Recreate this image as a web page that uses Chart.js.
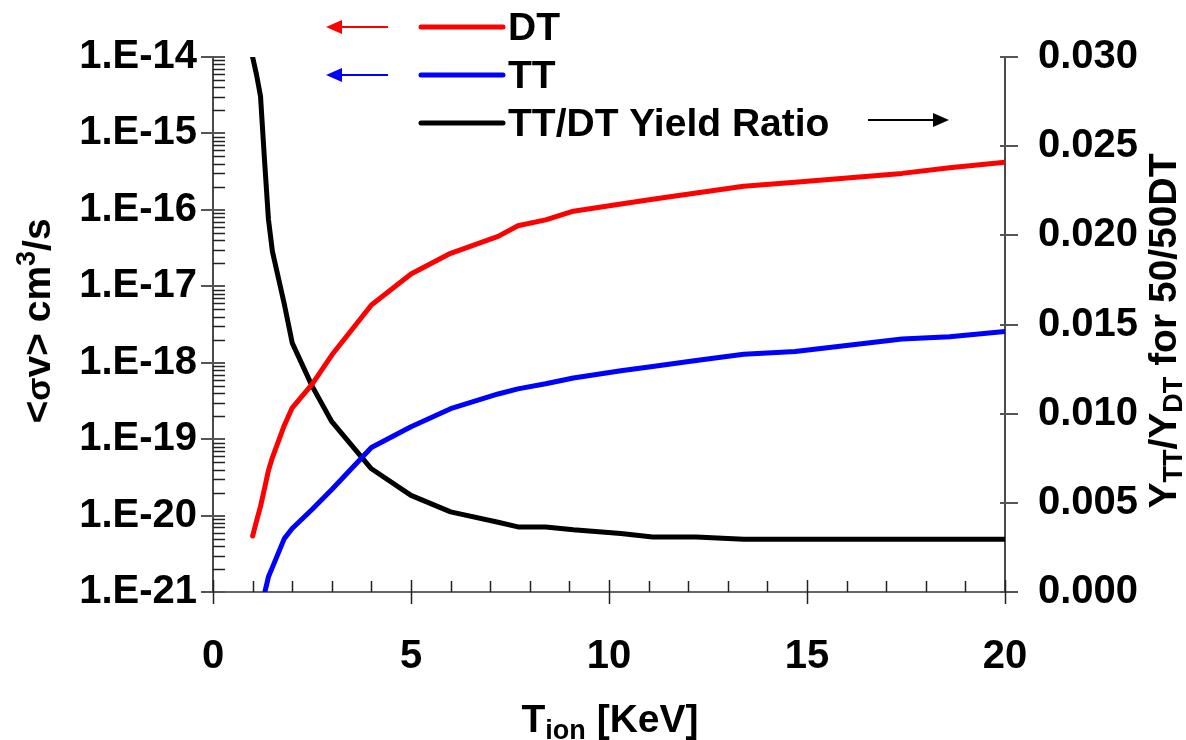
<!DOCTYPE html>
<html>
<head>
<meta charset="utf-8">
<script src="https://cdn.jsdelivr.net/npm/chart.js@4.4.1/dist/chart.umd.min.js"></script>
<style>
  html, body { margin: 0; padding: 0; background: #fff; }
</style>
</head>
<body>
<canvas id="myChart" width="1186" height="740"></canvas>
<script>
"use strict";
// ion temperature, keV
const tIon = [1, 1.1, 1.2, 1.3, 1.4, 1.5, 1.8, 2, 2.5, 3, 4, 5, 6, 7.2, 7.7, 8.4, 9.1, 10.3, 11.1, 12.2, 13.4, 14.7, 17.4, 18.6, 20];
// <sigma v> in cm^3/s
const sigmaDT = [5.4e-21, 8.5e-21, 1.32e-20, 2.24e-20, 3.9e-20, 5.75e-20, 1.51e-19, 2.57e-19, 5.2e-19, 1.26e-18, 5.7e-18, 1.45e-17, 2.7e-17, 4.5e-17, 6.2e-17, 7.4e-17, 9.6e-17, 1.19e-16, 1.38e-16, 1.66e-16, 2.04e-16, 2.3e-16, 3.0e-16, 3.55e-16, 4.2e-16];
const sigmaTT = [3e-22, 4.5e-22, 6.5e-22, 9.5e-22, 1.58e-21, 2.1e-21, 5.0e-21, 6.76e-21, 1.2e-20, 2.19e-20, 7.76e-20, 1.45e-19, 2.5e-19, 3.9e-19, 4.55e-19, 5.3e-19, 6.3e-19, 7.85e-19, 8.9e-19, 1.07e-18, 1.29e-18, 1.40e-18, 2.04e-18, 2.19e-18, 2.57e-18];
// Y_TT / Y_DT for a 50/50 DT fill
const yieldRatio = [0.0300, 0.0290, 0.0278, 0.02425, 0.0209, 0.0191, 0.01615, 0.01397, 0.01156, 0.00955, 0.00691, 0.00542, 0.00449, 0.00391, 0.00365, 0.00365, 0.00349, 0.00328, 0.00309, 0.00309, 0.00296, 0.00296, 0.00296, 0.00296, 0.00296];

const tempTicks = [0, 5, 10, 15, 20];
const sigmaTicks = [1e-21, 1e-20, 1e-19, 1e-18, 1e-17, 1e-16, 1e-15, 1e-14];
const ratioTicks = [0, 0.005, 0.010, 0.015, 0.020, 0.025, 0.030];

const FAMILY = "'Liberation Sans', Arial, sans-serif";
function font(size) { return 'bold ' + size + 'px ' + FAMILY; }

function pairs(ys) {
    return tIon.map((t, i) => ({ x: t, y: ys[i] }));
}

// text with sub/superscripts, centred on (x, y) baseline
function drawRich(c, parts, x, y, vertical) {
    c.save();
    c.translate(x, y);
    if (vertical) c.rotate(-Math.PI / 2);
    let total = 0;
    parts.forEach(p => { c.font = font(p.size); total += c.measureText(p.text).width; });
    let cx = -total / 2;
    c.textAlign = 'left';
    c.textBaseline = 'alphabetic';
    c.fillStyle = '#000';
    parts.forEach(p => {
        c.font = font(p.size);
        c.fillText(p.text, cx, p.dy || 0);
        cx += c.measureText(p.text).width;
    });
    c.restore();
}

function arrow(c, x1, x2, y, color) {
    // shaft from x1 to x2, head at x2
    const dir = x2 > x1 ? 1 : -1;
    c.strokeStyle = color;
    c.fillStyle = color;
    c.lineWidth = 2;
    c.beginPath();
    c.moveTo(x1, y);
    c.lineTo(x2 - dir * 12, y);
    c.stroke();
    c.beginPath();
    c.moveTo(x2, y);
    c.lineTo(x2 - dir * 16, y - 7);
    c.lineTo(x2 - dir * 16, y + 7);
    c.closePath();
    c.fill();
}

const axisMarks = {
    id: 'axisMarks',
    beforeDatasetsDraw(chart) {
        const c = chart.ctx;
        const a = chart.chartArea;
        const sx = chart.scales.x, sy = chart.scales.y, sr = chart.scales.y1;
        c.save();
        c.lineCap = 'butt';
        // axis lines
        c.strokeStyle = '#111';
        c.lineWidth = 1.5;
        c.beginPath();
        c.moveTo(a.left, a.top); c.lineTo(a.left, a.bottom);
        c.moveTo(a.right, a.top); c.lineTo(a.right, a.bottom);
        c.stroke();
        c.strokeStyle = '#666';
        c.lineWidth = 2;
        c.beginPath();
        c.moveTo(a.left, a.bottom); c.lineTo(a.right, a.bottom);
        c.stroke();

        // left log axis: minor ticks inside, majors across
        c.strokeStyle = '#222';
        c.lineWidth = 1.5;
        c.beginPath();
        for (let d = -21; d < -14; d++) {
            for (let m = 2; m <= 9; m++) {
                const py = Math.round(sy.getPixelForValue(m * Math.pow(10, d))) + 0.5;
                c.moveTo(a.left, py); c.lineTo(a.left + 12, py);
            }
        }
        c.stroke();
        c.strokeStyle = '#555';
        c.lineWidth = 2;
        c.beginPath();
        sigmaTicks.forEach(v => {
            const py = Math.round(sy.getPixelForValue(v));
            c.moveTo(a.left - 12, py); c.lineTo(a.left + 12, py);
        });
        c.stroke();

        // right axis majors
        c.beginPath();
        ratioTicks.forEach(v => {
            const py = Math.round(sr.getPixelForValue(v));
            c.moveTo(a.right - 5, py); c.lineTo(a.right + 13, py);
        });
        c.stroke();

        // bottom axis: minor ticks every keV, majors across
        c.strokeStyle = '#222';
        c.lineWidth = 1.5;
        c.beginPath();
        for (let t = 1; t < 20; t++) {
            if (t % 5 === 0) continue;
            const px = Math.round(sx.getPixelForValue(t)) + 0.5;
            c.moveTo(px, a.bottom); c.lineTo(px, a.bottom - 11);
        }
        tempTicks.forEach(t => {
            const px = Math.round(sx.getPixelForValue(t)) + 0.5;
            c.moveTo(px, a.bottom - 12); c.lineTo(px, a.bottom + 12);
        });
        c.stroke();
        c.restore();
    }
};

const decorations = {
    id: 'decorations',
    afterDraw(chart) {
        const c = chart.ctx;
        c.save();
        // legend
        const rows = [
            { y: 27, color: '#ff0000', text: 'DT' },
            { y: 75, color: '#0000ff', text: 'TT' },
            { y: 123, color: '#000000', text: 'TT/DT Yield Ratio' }
        ];
        c.lineCap = 'round';
        rows.forEach(r => {
            c.strokeStyle = r.color;
            c.lineWidth = 5;
            c.beginPath();
            c.moveTo(421, r.y); c.lineTo(503, r.y);
            c.stroke();
            c.fillStyle = '#000';
            c.font = font(39);
            c.textAlign = 'left';
            c.textBaseline = 'middle';
            c.fillText(r.text, 508, r.y + 2);
        });
        c.lineCap = 'butt';
        arrow(c, 388, 326, 27, '#ff0000');
        arrow(c, 388, 326, 75, '#0000ff');
        arrow(c, 868, 949, 120, '#000000');

        // axis titles
        drawRich(c, [
            { text: 'T', size: 39 },
            { text: 'ion', size: 27, dy: 7 },
            { text: ' [KeV]', size: 39 }
        ], 610, 732, false);
        drawRich(c, [
            { text: '<', size: 39 },
            { text: 'σ', size: 34 },
            { text: 'v> cm', size: 39 },
            { text: '3', size: 27, dy: -15 },
            { text: '/s', size: 39 }
        ], 50, 321, true);
        drawRich(c, [
            { text: 'Y', size: 39 },
            { text: 'TT', size: 27, dy: 6 },
            { text: '/Y', size: 39 },
            { text: 'DT', size: 27, dy: 6 },
            { text: ' for 50/50DT', size: 39 }
        ], 1176, 331, true);
        c.restore();
    }
};

const tickFont = { family: FAMILY, size: 40, weight: 'bold' };

const ctx = document.getElementById('myChart');
var myChart = new Chart(ctx, {
    type: 'line',
    data: {
        datasets: [{
                label: 'DT',
                data: pairs(sigmaDT),
                yAxisID: 'y',
                borderColor: '#ff0000',
                borderWidth: 5
            },
            {
                label: 'TT',
                data: pairs(sigmaTT),
                yAxisID: 'y',
                borderColor: '#0000ff',
                borderWidth: 5
            },
            {
                label: 'TT/DT Yield Ratio',
                data: pairs(yieldRatio),
                yAxisID: 'y1',
                borderColor: '#000000',
                borderWidth: 5
            }
        ]
    },
    options: {
        responsive: false,
        animation: false,
        layout: { padding: { top: 55, left: 0, right: 0, bottom: 0 } },
        elements: {
            point: { radius: 0 },
            line: { tension: 0, borderCapStyle: 'round', borderJoinStyle: 'round', fill: false }
        },
        plugins: {
            legend: { display: false },
            tooltip: { enabled: false }
        },
        scales: {
            x: {
                type: 'linear',
                min: 0,
                max: 20,
                afterBuildTicks: s => { s.ticks = tempTicks.map(v => ({ value: v })); },
                afterFit: s => { s.height = 148; },
                grid: { display: false, drawTicks: false },
                border: { display: false },
                ticks: { font: tickFont, color: '#000', padding: 41, maxRotation: 0, autoSkip: false }
            },
            y: {
                type: 'logarithmic',
                position: 'left',
                min: 1e-21,
                max: 1e-14,
                afterBuildTicks: s => { s.ticks = sigmaTicks.map(v => ({ value: v, major: true })); },
                afterFit: s => { s.width = 213; },
                grid: { display: false, drawTicks: false },
                border: { display: false },
                ticks: {
                    font: tickFont,
                    color: '#000',
                    padding: 16,
                    autoSkip: false,
                    callback: v => '1.E' + Math.round(Math.log10(v))
                }
            },
            y1: {
                type: 'linear',
                position: 'right',
                min: 0,
                max: 0.03,
                afterBuildTicks: s => { s.ticks = ratioTicks.map(v => ({ value: v })); },
                afterFit: s => { s.width = 181; },
                grid: { display: false, drawTicks: false },
                border: { display: false },
                ticks: {
                    font: tickFont,
                    color: '#000',
                    padding: 33,
                    autoSkip: false,
                    callback: v => v.toFixed(3)
                }
            }
        }
    },
    plugins: [axisMarks, decorations]
});
</script>
</body>
</html>
